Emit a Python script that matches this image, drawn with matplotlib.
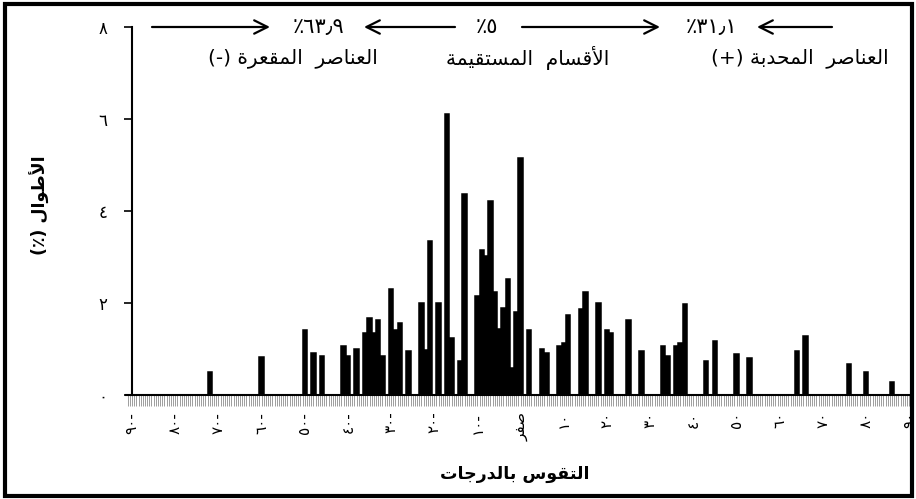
import matplotlib
matplotlib.use('Agg')
import matplotlib.pyplot as plt
from matplotlib.patches import Rectangle, FancyArrowPatch
from matplotlib.ticker import MultipleLocator, FixedLocator

# ---------------- data ----------------
angles = [-72, -60, -50, -48, -46, -41, -40, -38, -36, -35, -34, -33, -32, -30, -29,
          -28, -26, -23, -22, -21, -19, -17, -16, -14, -13, -10, -9, -8, -7, -6,
          -5, -4, -3, -2, -1, 0, 2, 5, 6, 9, 10, 11, 14, 15, 18,
          20, 21, 25, 28, 33, 34, 36, 37, 38, 43, 45, 50, 53, 64, 66,
          76, 80, 86]
lengths = [0.51, 0.83, 1.41, 0.91, 0.84, 1.07, 0.84, 1.00, 1.34, 1.67, 1.34, 1.62, 0.85, 2.30, 1.42,
           1.57, 0.95, 2.00, 0.98, 3.35, 2.01, 6.10, 1.24, 0.74, 4.36, 2.15, 3.15, 3.02, 4.22, 2.25,
           1.44, 1.90, 2.53, 0.58, 1.80, 5.16, 1.41, 1.00, 0.91, 1.07, 1.13, 1.75, 1.86, 2.23, 2.01,
           1.41, 1.34, 1.63, 0.96, 1.07, 0.85, 1.07, 1.14, 1.97, 0.74, 1.18, 0.89, 0.80, 0.96, 1.28,
           0.67, 0.51, 0.28]

x_ticks = list(range(-90, 91, 10))
x_ticklabels = ['٩٠-', '٨٠-', '٧٠-', '٦٠-', '٥٠-', '٤٠-', '٣٠-', '٢٠-', '١٠-', 'صفر',
                '١٠', '٢٠', '٣٠', '٤٠', '٥٠', '٦٠', '٧٠', '٨٠', '٩٠']
y_ticks = [0, 2, 4, 6, 8]
y_ticklabels = ['٠', '٢', '٤', '٦', '٨']

shares = ['٪٦٣٫٩', '٪٥', '٪٣١٫١']
groups = ['العناصر المقعرة', 'الأقسام المستقيمة', 'العناصر المحدبة']
x_title = 'التقوس بالدرجات'
y_title = 'الأطوال'

# ---------------- minimal Arabic shaping ----------------
FORMS = {
    'ا': ('\uFE8D', '\uFE8E', None, None),
    'أ': ('\uFE83', '\uFE84', None, None),
    'ب': ('\uFE8F', '\uFE90', '\uFE91', '\uFE92'),
    'ة': ('\uFE93', '\uFE94', None, None),
    'ت': ('\uFE95', '\uFE96', '\uFE97', '\uFE98'),
    'ج': ('\uFE9D', '\uFE9E', '\uFE9F', '\uFEA0'),
    'ح': ('\uFEA1', '\uFEA2', '\uFEA3', '\uFEA4'),
    'د': ('\uFEA9', '\uFEAA', None, None),
    'ر': ('\uFEAD', '\uFEAE', None, None),
    'س': ('\uFEB1', '\uFEB2', '\uFEB3', '\uFEB4'),
    'ص': ('\uFEB9', '\uFEBA', '\uFEBB', '\uFEBC'),
    'ط': ('\uFEC1', '\uFEC2', '\uFEC3', '\uFEC4'),
    'ع': ('\uFEC9', '\uFECA', '\uFECB', '\uFECC'),
    'ف': ('\uFED1', '\uFED2', '\uFED3', '\uFED4'),
    'ق': ('\uFED5', '\uFED6', '\uFED7', '\uFED8'),
    'ل': ('\uFEDD', '\uFEDE', '\uFEDF', '\uFEE0'),
    'م': ('\uFEE1', '\uFEE2', '\uFEE3', '\uFEE4'),
    'ن': ('\uFEE5', '\uFEE6', '\uFEE7', '\uFEE8'),
    'و': ('\uFEED', '\uFEEE', None, None),
    'ي': ('\uFEF1', '\uFEF2', '\uFEF3', '\uFEF4'),
}
LAMALEF = {'ا': ('\uFEFB', '\uFEFC'), 'أ': ('\uFEF7', '\uFEF8')}


def _dual(c):
    return c in FORMS and FORMS[c][2] is not None


def shape_word(w):
    out = []
    i, n = 0, len(w)
    while i < n:
        c = w[i]
        prev = w[i - 1] if i > 0 else None
        jp = prev is not None and _dual(prev) and c in FORMS
        if c == 'ل' and i + 1 < n and w[i + 1] in LAMALEF:
            out.append(LAMALEF[w[i + 1]][1 if jp else 0])
            i += 2
            continue
        if c not in FORMS:
            out.append(c)
            i += 1
            continue
        nxt = w[i + 1] if i + 1 < n else None
        jn = _dual(c) and nxt is not None and nxt in FORMS
        iso, fin, ini, med = FORMS[c]
        out.append(med if (jp and jn) else fin if jp else ini if jn else iso)
        i += 1
    return ''.join(out)


def ar(text, sep=' '):
    return sep.join(shape_word(w)[::-1] for w in reversed(text.split(' ')))


# ---------------- figure ----------------
W, H = 916, 499
fig = plt.figure(figsize=(W / 100, H / 100), dpi=100)
plt.rcParams['font.family'] = ['DejaVu Sans']


def fx(px):
    return px / W


def fy(py):
    return 1 - py / H


ax = fig.add_axes([fx(126), fy(395), fx(911) - fx(126), fy(27) - fy(395)])
ax.bar(angles, lengths, width=1.0, color='black', edgecolor='black', linewidth=1.1)

ax.set_xlim(-91.4, 90.4)
ax.set_ylim(0, 8)
for s in ['top', 'right']:
    ax.spines[s].set_visible(False)
ax.spines['left'].set_position(('data', -90))
ax.spines['left'].set_linewidth(1.5)
ax.spines['bottom'].set_linewidth(1.5)

ax.xaxis.set_major_locator(FixedLocator(x_ticks))
ax.xaxis.set_minor_locator(MultipleLocator(0.5))
ax.set_xticklabels([ar(t) if t == 'صفر' else t for t in x_ticklabels],
                   rotation=90, fontsize=11)
ax.tick_params(axis='x', which='both', direction='out', length=8, width=0.5,
               color='#777777', pad=4)
ax.set_yticks(y_ticks)
ax.set_yticklabels(y_ticklabels, fontsize=12)
ax.tick_params(axis='y', direction='out', length=6, width=1.2, pad=12)

# axis titles
fig.text(fx(515), fy(474), ar(x_title), ha='center', va='center',
         fontsize=12.5, fontweight='bold')
fig.text(fx(40), fy(205), '(٪) ' + ar(y_title), ha='center', va='center',
         rotation=90, fontsize=12.5, fontweight='bold')

# top annotation row: arrows and shares
ay = 27
arrow_kw = dict(arrowstyle='->', lw=1.6, color='black', mutation_scale=24,
                shrinkA=0, shrinkB=0)


def arrow(x_tail, x_head):
    fig.add_artist(FancyArrowPatch((fx(x_tail), fy(ay)), (fx(x_head), fy(ay)),
                                   transform=fig.transFigure, **arrow_kw))


arrow(152, 270)
arrow(455, 364)
arrow(522, 660)
arrow(832, 757)
fig.text(fx(318), fy(ay), shares[0], ha='center', va='center', fontsize=15)
fig.text(fx(487), fy(ay), shares[1], ha='center', va='center', fontsize=15)
fig.text(fx(712), fy(ay), shares[2], ha='center', va='center', fontsize=15)

fig.text(fx(293), fy(58), '(-) ' + ar(groups[0], '  '), ha='center', va='center', fontsize=14.5)
fig.text(fx(528), fy(58), ar(groups[1], '  '), ha='center', va='center', fontsize=14.5)
fig.text(fx(800), fy(58), '(+) ' + ar(groups[2], '  '), ha='center', va='center', fontsize=14.5)

# outer frame
fig.add_artist(Rectangle((fx(5), fy(496)), fx(912) - fx(5), fy(4) - fy(496),
                         transform=fig.transFigure, fill=False, lw=3, edgecolor='black'))

fig.savefig('out.png', dpi=100)
